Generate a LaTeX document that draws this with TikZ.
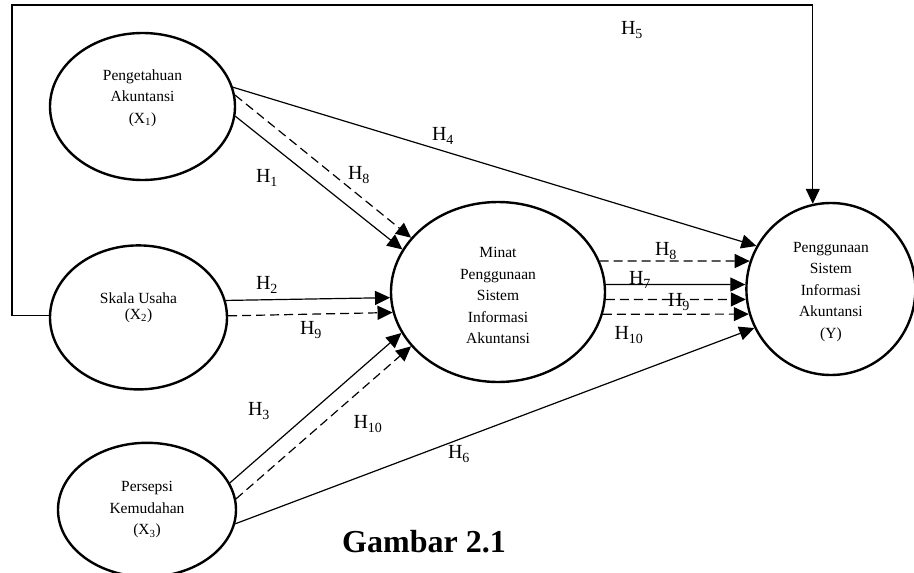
\documentclass[tikz,border=0pt]{standalone}
\usepackage{fontspec}
\setmainfont{Liberation Serif}
\usetikzlibrary{shapes.geometric,arrows.meta,positioning}

\tikzset{
	var/.style={ellipse,draw,line width=2.4pt,inner sep=0pt},
	vtext/.style={align=center,font=\fontsize{15.5}{21.5}\selectfont},
	hyp/.style={-{Triangle[length=15pt,width=14pt]},line width=1.2pt},
	hypd/.style={hyp,dash pattern=on 9pt off 5pt},
	lab/.style={font=\fontsize{20}{24}\selectfont,inner sep=0pt}
}

\begin{document}
\begin{tikzpicture}[x=1pt,y=-1pt]
	\useasboundingbox (0,0) rectangle (914,573);
	\node[var,minimum width=185pt,minimum height=147pt,
		label={[vtext,yshift=8.5pt]center:Pengetahuan\\Akuntansi\\(X\textsubscript{1})}](x1) at (142.5,106.5){};
	\node[var,minimum width=177pt,minimum height=144pt,
		label={[vtext,font=\fontsize{15.5}{15.5}\selectfont,yshift=9.5pt]center:Skala Usaha\\(X\textsubscript{2})}](x2)[below=63pt of x1,xshift=-4pt]{};
	\node[var,minimum width=178pt,minimum height=134pt,
		label={[vtext]center:Persepsi\\Kemudahan\\(X\textsubscript{3})}](x3)[below=51pt of x2,xshift=8.5pt]{};
	\node[var,minimum width=214pt,minimum height=180pt,
		label={[vtext,yshift=-3.5pt]center:Minat\\Penggunaan\\Sistem\\Informasi\\Akuntansi}](m) at (498,292){};
	\node[var,minimum width=169pt,minimum height=172pt,
		label={[vtext,yshift=-3pt]center:Penggunaan\\Sistem\\Informasi\\Akuntansi\\(Y)}](y)[right=139pt of m,yshift=3pt]{};
	\coordinate(c5) at (12,5);
	% direct effects
	\path[hyp](x1.-6) edge (m.156);
	\path[hyp](x2.11) edge (m.-177);
	\path[hyp](x3.18) edge (m.-157);
	\path[hyp](x1.12) edge (y.150);
	\draw[hyp](x2.179) -| (c5) -| (y.102);
	\path[hyp](x3.-9) edge (y.-153);
	\path[hyp](m.4) edge (y.177);
	% mediated effects
	\path[hypd](x1.7) edge (m.148);
	\path[hypd](x2.1) edge (m.-169);
	\path[hypd](x3.7) edge (m.-148);
	\path[hypd](m.17) edge (y.161);
	\path[hypd](m.-4) edge (y.-173);
	\path[hypd](m.-12) edge (y.-163);
	% labels
	\node[lab](h1) at (267,178){H\textsubscript{1}};
	\node[lab](h2) at (267,285){H\textsubscript{2}};
	\node[lab](h3) at (259,411){H\textsubscript{3}};
	\node[lab](h4) at (443,136){H\textsubscript{4}};
	\node[lab](h5) at (632,30){H\textsubscript{5}};
	\node[lab](h6) at (459,454){H\textsubscript{6}};
	\node[lab](h7) at (640,280){H\textsubscript{7}};
	\node[lab](h8a) at (359,175){H\textsubscript{8}};
	\node[lab](h8b) at (666,251){H\textsubscript{8}};
	\node[lab](h9a) at (311,330){H\textsubscript{9}};
	\node[lab](h9b) at (679,302){H\textsubscript{9}};
	\node[lab](h10a) at (368,424){H\textsubscript{10}};
	\node[lab](h10b) at (629,335){H\textsubscript{10}};
	\node[font=\fontsize{32}{36}\selectfont\bfseries](cap) at (424,542){Gambar 2.1};
\end{tikzpicture}
\end{document}
